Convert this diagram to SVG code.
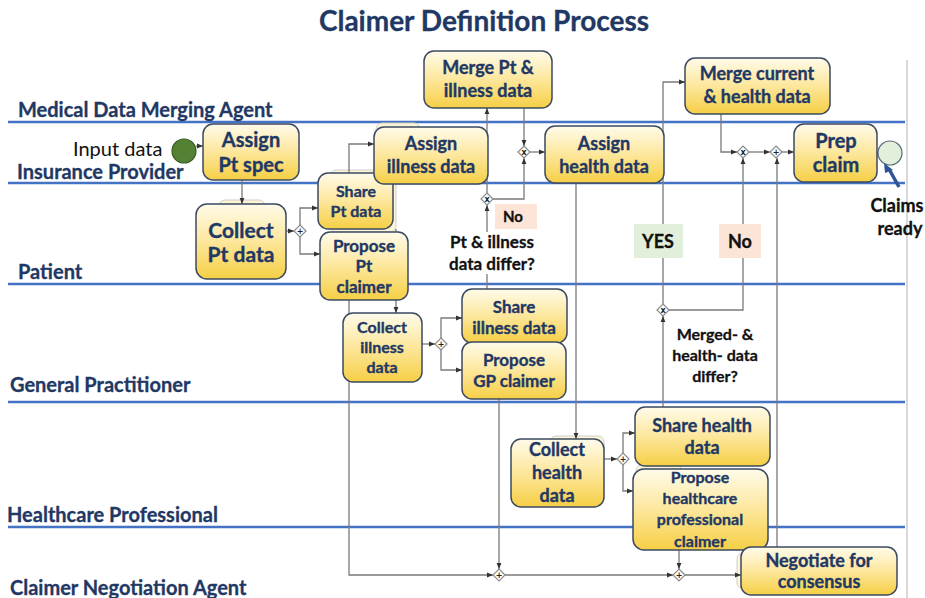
<svg xmlns="http://www.w3.org/2000/svg" width="925" height="598" viewBox="0 0 925 598">
  <defs>
    <linearGradient id="taskFill" x1="0" y1="0" x2="0" y2="1">
      <stop offset="0" stop-color="#fffbea"/>
      <stop offset="0.45" stop-color="#fde9a4"/>
      <stop offset="1" stop-color="#f6cf45"/>
    </linearGradient>
    <marker id="arrow" viewBox="0 0 10 10" refX="10" refY="5" markerWidth="6" markerHeight="6" orient="auto" markerUnits="userSpaceOnUse">
      <path d="M0,1 L10,5 L0,9 Z" fill="#333"/>
    </marker>
    <style>
      .title { font-family: Lato, "Open Sans", sans-serif; font-weight: 700; font-size: 28px; fill: #1f3864; stroke: #1f3864; stroke-width: 0.3; }
      .lane { font-family: Lato, "Open Sans", sans-serif; font-weight: 700; font-size: 20px; fill: #1f3864; stroke: #1f3864; stroke-width: 0.3; }
      .laneLine { stroke: #4472c4; stroke-width: 2.5; fill: none; }
      .task rect { fill: url(#taskFill); stroke: #3b4a60; stroke-width: 1.5; }
      .task text { font-family: Lato, "Open Sans", sans-serif; font-weight: 700; fill: #1f3864; stroke: #1f3864; stroke-width: 0.35; text-anchor: middle; }
      .ghost { fill: #fdf5d6; stroke: #cfcfcf; stroke-width: 1; }
      .conn path { stroke: #7a7a7a; stroke-width: 1.3; fill: none; marker-end: url(#arrow); }
      .gw path { fill: #fff; stroke: #8c8c8c; stroke-width: 1.2; }
      .gw text { font-family: "DejaVu Sans", sans-serif; font-size: 8px; font-weight: 700; fill: #222; text-anchor: middle; }
      .note { font-family: Lato, "Open Sans", sans-serif; font-weight: 700; fill: #111; stroke: #111; stroke-width: 0.3; text-anchor: middle; }
      .plain { font-family: Lato, "Open Sans", sans-serif; font-size: 20px; fill: #111; }
    </style>
  </defs>

  <rect width="925" height="598" fill="#fff"/>

  <text class="title" x="484" y="31" text-anchor="middle">Claimer Definition Process</text>

  <!-- pool right border -->
  <line x1="907" y1="60" x2="907" y2="598" stroke="#bfbfbf" stroke-width="1.2"/>

  <!-- lanes -->
  <g id="lanes">
    <line class="laneLine" x1="8" y1="122" x2="905" y2="122"/>
    <line class="laneLine" x1="8" y1="183" x2="905" y2="183"/>
    <line class="laneLine" x1="8" y1="284" x2="905" y2="284"/>
    <line class="laneLine" x1="8" y1="402" x2="905" y2="402"/>
    <line class="laneLine" x1="8" y1="527" x2="905" y2="527"/>
    <text class="lane" x="18" y="117">Medical Data Merging Agent</text>
    <text class="lane" x="17" y="179">Insurance Provider</text>
    <text class="lane" x="18" y="279">Patient</text>
    <text class="lane" x="10" y="392">General Practitioner</text>
    <text class="lane" x="7" y="522">Healthcare Professional</text>
    <text class="lane" x="10" y="595">Claimer Negotiation Agent</text>
  </g>

  <!-- stacked shapes peeking out behind some tasks -->
  <g id="stacked-shapes">
    <rect class="ghost" x="219" y="200" width="46" height="20" rx="6"/>
    <rect class="ghost" x="330" y="170" width="66" height="62" rx="6"/>
    <rect class="ghost" x="376" y="123" width="44" height="20" rx="6"/>
    <rect class="ghost" x="550" y="436" width="54" height="20" rx="6"/>
    <rect class="ghost" x="636" y="465" width="46" height="20" rx="6"/>
    <rect class="ghost" x="737" y="553" width="20" height="36" rx="6"/>
  </g>

  <!-- sequence flows -->
  <g id="connectors" class="conn">
    <path d="M196,146 H203"/>
    <path d="M242,180 V204"/>
    <path d="M286,231 H294"/>
    <path d="M300,225 V208 H318"/>
    <path d="M300,237 V254 H320"/>
    <path d="M349,173 V144 H374"/>
    <path d="M396,229 V313"/>
    <path d="M349,300 V575 H493"/>
    <path d="M422,344 H435"/>
    <path d="M441,338 V318 H462"/>
    <path d="M441,350 V370 H462"/>
    <path d="M487,289 V205"/>
    <path d="M487,193 V108"/>
    <path d="M493,199 H524 V158"/>
    <path d="M524,108 V146"/>
    <path d="M530,152 H545"/>
    <path d="M576,183 V439"/>
    <path d="M604,459 H617"/>
    <path d="M623,453 V433 H635"/>
    <path d="M623,465 V491 H633"/>
    <path d="M663,407 V316"/>
    <path d="M663,304 V82 H685"/>
    <path d="M669,310 H743 V158"/>
    <path d="M721,114 V152 H737"/>
    <path d="M749,152 H770"/>
    <path d="M782,152 H794"/>
    <path d="M777,547 V158"/>
    <path d="M499,399 V569"/>
    <path d="M505,575 H673"/>
    <path d="M679,550 V569"/>
    <path d="M685,575 H741"/>
    <path d="M877,153 H878" marker-end="none"/>
  </g>

  <!-- gateways -->
  <g id="gw-split-pt" class="gw"><path d="M300,225 L306,231 L300,237 L294,231 Z"/><text x="300" y="234">+</text></g>
  <g id="gw-split-illness" class="gw"><path d="M441,338 L447,344 L441,350 L435,344 Z"/><text x="441" y="347">+</text></g>
  <g id="gw-illness-differ" class="gw"><path d="M487,193 L493,199 L487,205 L481,199 Z"/><text x="487" y="202">x</text></g>
  <g id="gw-illness-join" class="gw"><path d="M524,146 L530,152 L524,158 L518,152 Z"/><text x="524" y="155">x</text></g>
  <g id="gw-split-health" class="gw"><path d="M623,453 L629,459 L623,465 L617,459 Z"/><text x="623" y="462">+</text></g>
  <g id="gw-health-differ" class="gw"><path d="M663,304 L669,310 L663,316 L657,310 Z"/><text x="663" y="313">x</text></g>
  <g id="gw-health-join" class="gw"><path d="M743,146 L749,152 L743,158 L737,152 Z"/><text x="743" y="155">x</text></g>
  <g id="gw-claim-join" class="gw"><path d="M776,146 L782,152 L776,158 L770,152 Z"/><text x="776" y="155">+</text></g>
  <g id="gw-negotiate-1" class="gw"><path d="M499,569 L505,575 L499,581 L493,575 Z"/><text x="499" y="578">+</text></g>
  <g id="gw-negotiate-2" class="gw"><path d="M679,569 L685,575 L679,581 L673,575 Z"/><text x="679" y="578">+</text></g>

  <!-- events -->
  <g id="start-event">
    <circle cx="184" cy="151" r="12" fill="#548235" stroke="#3a5c24" stroke-width="1.2"/>
    <text class="plain" x="73" y="156">Input data</text>
  </g>
  <g id="end-event">
    <circle cx="890" cy="153" r="12" fill="#e2efda" stroke="#5a6a7a" stroke-width="1.2"/>
    <line x1="899" y1="187" x2="889" y2="169" stroke="#2f5597" stroke-width="3.5"/>
    <path d="M884,163 L893,170 L885,173 Z" fill="#2f5597"/>
    <text class="note" x="897" y="212" font-size="18">Claims</text>
    <text class="note" x="900" y="235" font-size="18">ready</text>
  </g>

  <!-- decision notes -->
  <g id="note-illness-differ">
    <rect x="495" y="204" width="42" height="25" fill="#fce4d6"/>
    <text class="note" x="513" y="222" font-size="15">No</text>
    <rect x="444" y="232" width="98" height="42" fill="#fff"/>
    <text class="note" x="492" y="248" font-size="17">Pt &amp; illness</text>
    <text class="note" x="492" y="270" font-size="17">data differ?</text>
  </g>
  <g id="note-health-differ">
    <rect x="634" y="224" width="49" height="34" fill="#e2efda"/>
    <text class="note" x="658" y="248" font-size="18">YES</text>
    <rect x="719" y="224" width="42" height="34" fill="#fce4d6"/>
    <text class="note" x="740" y="248" font-size="18">No</text>
    <text class="note" x="715" y="340" font-size="16">Merged- &amp;</text>
    <text class="note" x="715" y="361" font-size="16">health- data</text>
    <text class="note" x="715" y="382" font-size="16">differ?</text>
  </g>

  <!-- tasks -->
  <g id="assign-pt-spec" class="task">
    <rect x="203" y="124" width="96" height="56" rx="10"/>
    <text x="251" y="147" font-size="20">Assign</text>
    <text x="251" y="172" font-size="20">Pt spec</text>
  </g>
  <g id="collect-pt-data" class="task">
    <rect x="196" y="204" width="90" height="75" rx="11"/>
    <text x="241" y="238" font-size="21">Collect</text>
    <text x="241" y="262" font-size="21">Pt data</text>
  </g>
  <g id="share-pt-data" class="task">
    <rect x="318" y="173" width="75" height="56" rx="10"/>
    <text x="356" y="197" font-size="16">Share</text>
    <text x="356" y="217" font-size="16">Pt data</text>
  </g>
  <g id="propose-pt-claimer" class="task">
    <rect x="320" y="232" width="88" height="68" rx="10"/>
    <text x="364" y="252" font-size="17">Propose</text>
    <text x="364" y="272" font-size="17">Pt</text>
    <text x="364" y="293" font-size="17">claimer</text>
  </g>
  <g id="assign-illness-data" class="task">
    <rect x="374" y="127" width="114" height="57" rx="10"/>
    <text x="431" y="150" font-size="18">Assign</text>
    <text x="431" y="173" font-size="18">illness data</text>
  </g>
  <g id="merge-pt-illness" class="task">
    <rect x="424" y="51" width="128" height="57" rx="10"/>
    <text x="488" y="74" font-size="18">Merge Pt &amp;</text>
    <text x="488" y="97" font-size="18">illness data</text>
  </g>
  <g id="assign-health-data" class="task">
    <rect x="545" y="126" width="119" height="57" rx="10"/>
    <text x="604" y="150" font-size="18">Assign</text>
    <text x="604" y="173" font-size="18">health data</text>
  </g>
  <g id="merge-current-health" class="task">
    <rect x="685" y="58" width="145" height="56" rx="10"/>
    <text x="757" y="80" font-size="18">Merge current</text>
    <text x="757" y="103" font-size="18">&amp; health data</text>
  </g>
  <g id="prep-claim" class="task">
    <rect x="794" y="124" width="83" height="58" rx="10"/>
    <text x="836" y="148" font-size="20">Prep</text>
    <text x="836" y="172" font-size="20">claim</text>
  </g>
  <g id="collect-illness-data" class="task">
    <rect x="343" y="313" width="79" height="69" rx="10"/>
    <text x="382" y="333" font-size="16">Collect</text>
    <text x="382" y="353" font-size="16">illness</text>
    <text x="382" y="373" font-size="16">data</text>
  </g>
  <g id="share-illness-data" class="task">
    <rect x="462" y="289" width="105" height="54" rx="10"/>
    <text x="514" y="313" font-size="17">Share</text>
    <text x="514" y="334" font-size="17">illness data</text>
  </g>
  <g id="propose-gp-claimer" class="task">
    <rect x="462" y="342" width="104" height="57" rx="10"/>
    <text x="514" y="366" font-size="17">Propose</text>
    <text x="514" y="387" font-size="17">GP claimer</text>
  </g>
  <g id="collect-health-data" class="task">
    <rect x="511" y="439" width="93" height="68" rx="10"/>
    <text x="557" y="456" font-size="18">Collect</text>
    <text x="557" y="479" font-size="18">health</text>
    <text x="557" y="502" font-size="18">data</text>
  </g>
  <g id="share-health-data" class="task">
    <rect x="635" y="407" width="135" height="59" rx="10"/>
    <text x="702" y="432" font-size="18">Share health</text>
    <text x="702" y="454" font-size="18">data</text>
  </g>
  <g id="propose-hc-claimer" class="task">
    <rect x="633" y="469" width="135" height="81" rx="11"/>
    <text x="700" y="483" font-size="16">Propose</text>
    <text x="700" y="504" font-size="16">healthcare</text>
    <text x="700" y="525" font-size="16">professional</text>
    <text x="700" y="547" font-size="16">claimer</text>
  </g>
  <g id="negotiate-consensus" class="task">
    <rect x="741" y="547" width="156" height="48" rx="10"/>
    <text x="819" y="567" font-size="18">Negotiate for</text>
    <text x="819" y="588" font-size="18">consensus</text>
  </g>
</svg>
